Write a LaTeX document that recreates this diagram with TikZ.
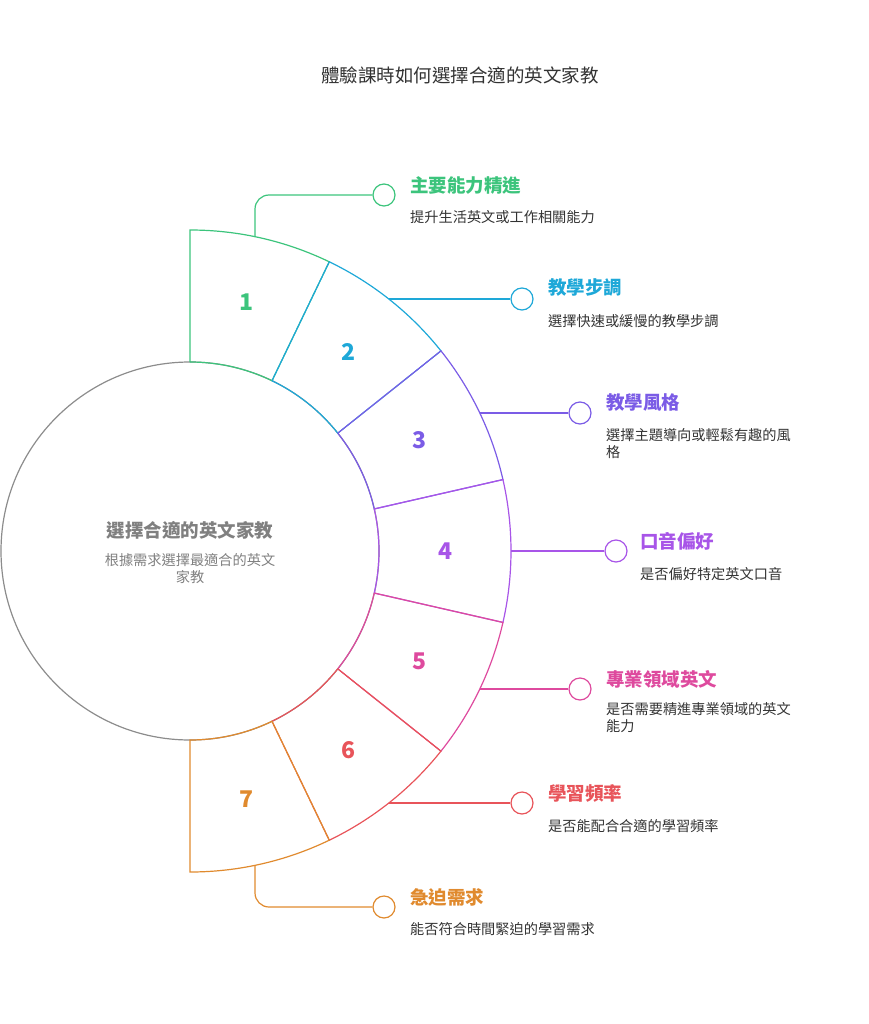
\documentclass[tikz,border=0pt]{standalone}
\usepackage{fontspec}
\setmainfont{Noto Sans CJK TC}
\begin{document}
\begin{tikzpicture}[x=1pt,y=1pt,
 sec/.style={line width=1.2pt},
 dot/.style={circle,draw,line width=1.2pt,minimum size=22pt,inner sep=0pt,fill=white},
 num/.style={font=\fontsize{23}{23}\selectfont\bfseries},
 ttl/.style={anchor=west,font=\fontsize{18.5}{20}\selectfont\bfseries,inner sep=0pt},
 dsc/.style={anchor=north west,font=\fontsize{14.2}{17}\selectfont,text=black!80,inner sep=0pt,align=left},
 con/.style={line width=1.2pt}]
\definecolor{c1}{HTML}{3CC47C}\definecolor{c2}{HTML}{1EA8D8}\definecolor{c3}{HTML}{7B5CE6}
\definecolor{c4}{HTML}{A855E8}\definecolor{c5}{HTML}{DE4A9E}\definecolor{c6}{HTML}{E8545A}
\definecolor{c7}{HTML}{E08A2E}
\useasboundingbox (0,0) rectangle (868,-1024);
\node[font=\fontsize{18.5}{20}\selectfont,text=black!80] (title) at (460,-75) {體驗課時如何選擇合適的英文家教};
\node[circle,draw=gray!90,line width=1.2pt,minimum size=378pt,inner sep=0pt] (hub) at (190,-551) {};
\node[font=\fontsize{18.5}{20}\selectfont\bfseries,text=gray] (ht) at (190,-530) {選擇合適的英文家教};
\node[font=\fontsize{14.2}{17}\selectfont,text=gray,align=center] (hd) at (190,-569) {根據需求選擇最適合的英文\\家教};
\begin{scope}[shift={(190,-551)}]
\foreach \i/\c in {0/c1,1/c2,2/c3,3/c4,4/c5,5/c6,6/c7}{
  \pgfmathsetmacro\a{90-\i*180/7}\pgfmathsetmacro\b{90-(\i+1)*180/7}\pgfmathsetmacro\m{90-(\i+0.5)*180/7}
  \draw[sec,\c] (\a:189) -- (\a:321) arc[start angle=\a,end angle=\b,radius=321] -- (\b:189) arc[start angle=\b,end angle=\a,radius=189];
  \node[num,text=\c] (n\i) at (\m:255) {\the\numexpr\i+1\relax};
}
\end{scope}
\node[dot,draw=c1] (d1) at (384,-195) {};
\node[dot,draw=c2] (d2) at (522,-299) {};
\node[dot,draw=c3] (d3) at (580,-413) {};
\node[dot,draw=c4] (d4) at (616,-551) {};
\node[dot,draw=c5] (d5) at (580,-689) {};
\node[dot,draw=c6] (d6) at (522,-803) {};
\node[dot,draw=c7] (d7) at (384,-907) {};
\coordinate (s1) at (255,-237);\coordinate (s2) at (389,-299);\coordinate (s3) at (480,-413);
\coordinate (s4) at (511,-551);\coordinate (s5) at (480,-689);\coordinate (s6) at (389,-803);
\coordinate (s7) at (255,-865);
\draw[con,c1,rounded corners=14pt] (s1) |- (d1);
\draw[con,c2] (s2) -- (d2);\draw[con,c3] (s3) -- (d3);\draw[con,c4] (s4) -- (d4);
\draw[con,c5] (s5) -- (d5);\draw[con,c6] (s6) -- (d6);
\draw[con,c7,rounded corners=14pt] (s7) |- (d7);
\node[ttl,text=c1] (t1) at (410,-185) {主要能力精進};
\node[dsc] (e1) at (410,-210) {提升生活英文或工作相關能力};
\node[ttl,text=c2] (t2) at (548,-288) {教學步調};
\node[dsc] (e2) at (548,-314) {選擇快速或緩慢的教學步調};
\node[ttl,text=c3] (t3) at (606,-403) {教學風格};
\node[dsc] (e3) at (606,-428) {選擇主題導向或輕鬆有趣的風\\格};
\node[ttl,text=c4] (t4) at (640,-541) {口音偏好};
\node[dsc] (e4) at (640,-567) {是否偏好特定英文口音};
\node[ttl,text=c5] (t5) at (606,-679) {專業領域英文};
\node[dsc] (e5) at (606,-702) {是否需要精進專業領域的英文\\能力};
\node[ttl,text=c6] (t6) at (548,-793) {學習頻率};
\node[dsc] (e6) at (548,-819) {是否能配合合適的學習頻率};
\node[ttl,text=c7] (t7) at (410,-897) {急迫需求};
\node[dsc] (e7) at (410,-922) {能否符合時間緊迫的學習需求};
\end{tikzpicture}
\end{document}
